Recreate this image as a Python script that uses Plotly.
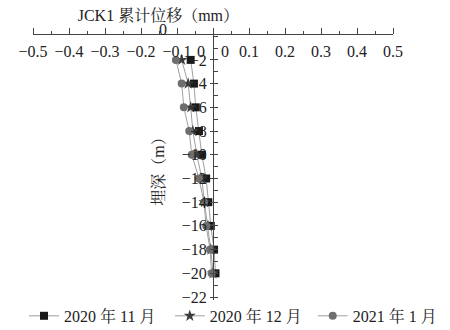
import plotly.graph_objects as go

depth = [-2, -4, -6, -8, -10, -12, -14, -16, -18, -20]
nov_2020 = [-0.062, -0.053, -0.048, -0.039, -0.031, -0.019, -0.013, -0.006, 0.003, 0.007]
dec_2020 = [-0.087, -0.069, -0.062, -0.056, -0.045, -0.031, -0.024, -0.014, -0.006, 0.0]
jan_2021 = [-0.103, -0.087, -0.081, -0.066, -0.059, -0.039, -0.025, -0.019, -0.008, -0.004]
series_names = ["2020 年 11 月", "2020 年 12 月", "2021 年 1 月"]

x_tickvals = [-0.5, -0.4, -0.3, -0.2, -0.1, 0, 0.1, 0.2, 0.3, 0.4, 0.5]
x_ticktext = ["−0.5", "−0.4", "−0.3", "−0.2", "−0.1", "0\u00a0\u00a0\u00a0\u00a00", "0.1", "0.2", "0.3", "0.4", "0.5"]
y_tickvals = [-2, -4, -6, -8, -10, -12, -14, -16, -18, -20, -22]
y_ticktext = ["−2", "−4", "−6", "−8", "−10", "−12", "−14", "−16", "−18", "−20", "−22"]

FONT = "Liberation Serif, 'Noto Serif CJK SC', 'Noto Sans CJK SC', serif"

fig = go.Figure()
styles = [
    (nov_2020, "square", "#1a1a1a", 8),
    (dec_2020, "star", "#3c3c3c", 9),
    (jan_2021, "circle", "#6e6e6e", 8),
]
legend_ids = ["legend", "legend2", "legend3"]
for (vals, sym, col, sz), name, lg in zip(styles, series_names, legend_ids):
    fig.add_trace(go.Scatter(
        x=vals, y=depth, name=name, mode="lines+markers", legend=lg,
        line=dict(color="#a0a0a0", width=1),
        marker=dict(symbol=sym, color=col, size=sz),
    ))

legend_common = dict(orientation="h", xanchor="left", y=-0.06, yanchor="middle",
                     font=dict(size=16), bgcolor="rgba(0,0,0,0)")

fig.update_layout(
    width=450, height=330,
    margin=dict(l=33, r=57, t=35, b=30, autoexpand=False),
    paper_bgcolor="white", plot_bgcolor="white",
    font=dict(family=FONT, size=16, color="#222"),
    title=dict(text="JCK1 累计位移（mm）", x=0.352, xanchor="center",
               y=0.952, yanchor="middle", font=dict(size=16, color="#222")),
    showlegend=True,
    legend=dict(x=-0.025, **legend_common),
    legend2=dict(x=0.38, **legend_common),
    legend3=dict(x=0.777, **legend_common),
    xaxis=dict(side="top", range=[-0.5, 0.5], tickvals=x_tickvals, ticktext=x_ticktext,
               ticks="outside", ticklen=6, tickcolor="#444", ticklabelstandoff=-35,
               minor=dict(dtick=0.05, ticks="outside", ticklen=3, tickcolor="#444"),
               showline=True, linecolor="#444", linewidth=1, showgrid=False, zeroline=False,
               automargin=False, tickfont=dict(size=16)),
    yaxis=dict(range=[-22.25, 0.1], tickvals=y_tickvals, ticktext=y_ticktext,
               anchor="free", position=0.5, ticks="outside", ticklen=3, tickcolor="#444",
               minor=dict(dtick=1, ticks="inside", ticklen=4, tickcolor="#444"),
               showline=True, linecolor="#444", linewidth=1, showgrid=False, zeroline=False,
               automargin=False, tickfont=dict(size=16),
               title=dict(text="埋深（m）", standoff=12, font=dict(size=16))),
    annotations=[dict(text="0", x=-0.139, y=1 + 6 / 265, xref="x", yref="paper",
                      yanchor="middle", showarrow=False, font=dict(size=16, color="#222"))],
)

fig.write_html("out.html", config={"displayModeBar": False},
               post_script="document.body.style.margin='0';")
